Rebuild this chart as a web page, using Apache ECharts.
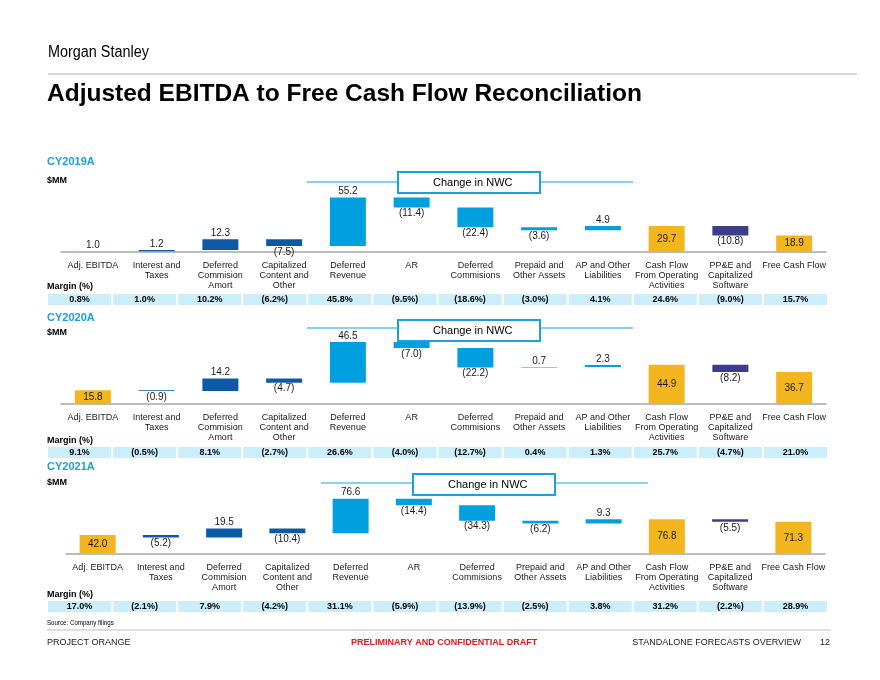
<!DOCTYPE html>
<html><head><meta charset="utf-8">
<script src="https://cdn.jsdelivr.net/npm/echarts@6/dist/echarts.min.js"></script>
<style>html,body{margin:0;padding:0;background:#fff}#c{width:880px;height:680px}</style>
</head><body><div id="c"></div>
<script>
// ---------- data ----------
const categories = ['Adj. EBITDA','Interest and\nTaxes','Deferred\nCommision\nAmort','Capitalized\nContent and\nOther','Deferred\nRevenue','AR','Deferred\nCommisions','Prepaid and\nOther Assets','AP and Other\nLiabilities','Cash Flow\nFrom Operating\nActivities','PP&E and\nCapitalized\nSoftware','Free Cash Flow'];
const kinds = ['total','adj','adj','adj','nwc','nwc','nwc','nwc','nwc','total','capex','total'];
const years = ['CY2019A','CY2020A','CY2021A'];
const values2019 = [1.0, 1.2, 12.3, -7.5, 55.2, -11.4, -22.4, -3.6, 4.9, 29.7, -10.8, 18.9];
const values2020 = [15.8, -0.9, 14.2, -4.7, 46.5, -7.0, -22.2, 0.7, 2.3, 44.9, -8.2, 36.7];
const values2021 = [42.0, -5.2, 19.5, -10.4, 76.6, -14.4, -34.3, -6.2, 9.3, 76.8, -5.5, 71.3];
const margins2019 = [0.8, 1.0, 10.2, -6.2, 45.8, -9.5, -18.6, -3.0, 4.1, 24.6, -9.0, 15.7];
const margins2020 = [9.1, -0.5, 8.1, -2.7, 26.6, -4.0, -12.7, 0.4, 1.3, 25.7, -4.7, 21.0];
const margins2021 = [17.0, -2.1, 7.9, -4.2, 31.1, -5.9, -13.9, -2.5, 3.8, 31.2, -2.2, 28.9];

// ---------- style / layout ----------
const COLORS = {total:'#F4B61E', adj:'#0C5AA6', nwc:'#00A0E0', capex:'#3D3D8E'};
const CELL = '#CCEEFB';
const ACCENT = '#1CA0E0';
const FONT = "'Liberation Sans', Arial, sans-serif";

const panels = [
  {vals: values2019, margins: margins2019, baseline:252, yMax:80, left:61, width:765, head:162, mm:181, mLabel:287, cellTop:294,
   nwc:{lineY:182, x1:307, x2:633, bx:398, bw:142, by:172, bh:21}},
  {vals: values2020, margins: margins2020, baseline:404, yMax:80, left:61, width:765, head:318, mm:333, mLabel:441, cellTop:447,
   nwc:{lineY:328, x1:307, x2:633, bx:398, bw:142, by:320, bh:21}},
  {vals: values2021, margins: margins2021, baseline:554, yMax:155, left:66, width:759, head:467, mm:483, mLabel:595, cellTop:601,
   nwc:{lineY:483, x1:321, x2:648, bx:413, bw:142, by:474, bh:21}}
];

const fmt = v => v < 0 ? '(' + Math.abs(v).toFixed(1) + ')' : v.toFixed(1);
const fmtPct = v => v < 0 ? '(' + Math.abs(v).toFixed(1) + '%)' : v.toFixed(1) + '%';

const grid = [], xAxis = [], yAxis = [], series = [], graphic = [];

function txt(text, x, y, font, fill, align, sx) {
  return {type:'text', x, y, scaleX: sx || 1,
    style:{text, x:0, y:0, font, fill: fill || '#000', align: align || 'left', verticalAlign:'middle'}};
}

panels.forEach((P, p) => {
  // waterfall grid
  const gi = grid.length;
  grid.push({left:P.left, width:P.width, top:P.baseline - 70, height:70});
  xAxis.push({type:'category', gridIndex:gi, data:categories,
    axisLine:{lineStyle:{color:'#A6A6A6', width:1.5}}, axisTick:{show:false},
    axisLabel:{interval:0, color:'#1a1a1a', fontSize:9, lineHeight:10, margin:9, fontFamily:FONT}});
  yAxis.push({type:'value', gridIndex:gi, min:0, max:P.yMax, show:false, splitLine:{show:false}});

  let run = 0; const base = [], vis = [];
  P.vals.forEach((v, i) => {
    const k = kinds[i];
    let b, h, pos, dist;
    if (k === 'total') {
      b = 0; h = v; run = v;
      const small = v / P.yMax < 0.1;
      pos = small ? 'top' : 'inside'; dist = small ? 1 : 5;
    } else {
      const nr = run + v; b = Math.min(run, nr); h = Math.abs(v); run = nr;
      pos = v < 0 ? 'bottom' : 'top'; dist = 1;
    }
    base.push(b);
    vis.push({value:h, itemStyle:{color:COLORS[k]},
      label:{show:true, position:pos, distance:dist, formatter:fmt(v), fontSize:10, color:'#1a1a1a', fontFamily:FONT}});
  });
  series.push({type:'bar', xAxisIndex:gi, yAxisIndex:gi, stack:'w'+p, data:base, barWidth:36,
    itemStyle:{color:'transparent'}, silent:true, label:{show:false}});
  series.push({type:'bar', xAxisIndex:gi, yAxisIndex:gi, stack:'w'+p, data:vis, barWidth:36});

  // margin row grid
  const mi = grid.length;
  grid.push({left:47, width:781, top:P.cellTop, height:11});
  xAxis.push({type:'category', gridIndex:mi, data:categories, show:false});
  yAxis.push({type:'value', gridIndex:mi, min:0, max:1, show:false});
  series.push({type:'custom', xAxisIndex:mi, yAxisIndex:mi,
    data: P.margins.map((m, i) => [i, m]),
    renderItem: (params, api) => {
      const top = api.coord([api.value(0), 1]);
      const bot = api.coord([api.value(0), 0]);
      const w = api.size([1, 0])[0];
      return {type:'group', children:[
        {type:'rect', shape:{x:top[0] - w/2 + 1, y:top[1], width:w - 2, height:bot[1] - top[1]}, style:{fill:CELL}},
        {type:'text', style:{text:fmtPct(api.value(1)), x:top[0], y:(top[1] + bot[1]) / 2 + 0.5, align:'center', verticalAlign:'middle',
          font:'bold 9px ' + FONT, fill:'#000'}}
      ]};
    }});

  // annotations
  graphic.push(txt(years[p], 47, P.head, 'bold 11px ' + FONT, ACCENT));
  graphic.push(txt('$MM', 47, P.mm, 'bold 9px ' + FONT, '#000'));
  graphic.push(txt('Margin (%)', 47, P.mLabel, 'bold 9px ' + FONT, '#000'));
  const n = P.nwc;
  graphic.push({type:'line', shape:{x1:n.x1, y1:n.lineY, x2:n.bx, y2:n.lineY}, style:{stroke:ACCENT, lineWidth:1.2}});
  graphic.push({type:'line', shape:{x1:n.bx + n.bw, y1:n.lineY, x2:n.x2, y2:n.lineY}, style:{stroke:ACCENT, lineWidth:1.2}});
  graphic.push({type:'rect', shape:{x:n.bx, y:n.by, width:n.bw, height:n.bh}, style:{fill:'#fff', stroke:ACCENT, lineWidth:2}});
  graphic.push(txt('Change in NWC', n.bx + 35, n.by + n.bh/2 + 0.5, '11px ' + FONT, '#000'));
});

// header / footer
graphic.push(txt('Morgan Stanley', 48, 53, '16px ' + FONT, '#000', 'left', 0.9));
graphic.push({type:'line', shape:{x1:48, y1:74, x2:857, y2:74}, style:{stroke:'#C8C8C8', lineWidth:1.5}});
graphic.push(txt('Adjusted EBITDA to Free Cash Flow Reconciliation', 47, 94, 'bold 24.5px ' + FONT, '#000'));
graphic.push(txt('Source: Company filings', 47, 623, '7px ' + FONT, '#000', 'left', 0.88));
graphic.push({type:'line', shape:{x1:47, y1:630, x2:831, y2:630}, style:{stroke:'#BFBFBF', lineWidth:1}});
graphic.push(txt('PROJECT ORANGE', 47, 643, '9px ' + FONT, '#1a1a1a'));
graphic.push(txt('PRELIMINARY AND CONFIDENTIAL DRAFT', 351, 643, 'bold 9px ' + FONT, '#E8141B'));
graphic.push(txt('STANDALONE FORECASTS OVERVIEW', 801, 643, '9px ' + FONT, '#1a1a1a', 'right'));
graphic.push(txt('12', 830, 643, '9px ' + FONT, '#1a1a1a', 'right'));

const chart = echarts.init(document.getElementById('c'), null, {renderer:'canvas'});
chart.setOption({animation:false, backgroundColor:'#fff', grid, xAxis, yAxis, series, graphic});
</script></body></html>
